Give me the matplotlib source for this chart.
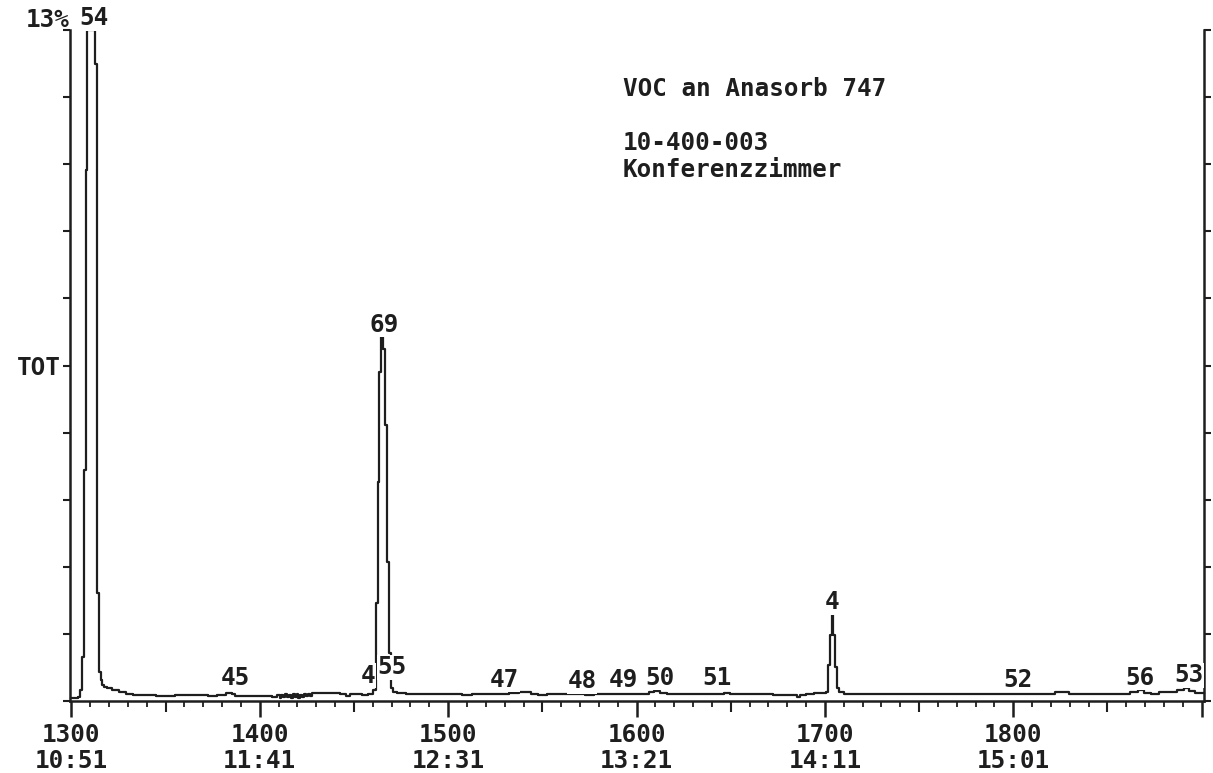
"""TOT chromatogram (VOC an Anasorb 747, sample 10-400-003) redrawn from a GC/MS printout."""

import matplotlib

matplotlib.use("Agg")
import matplotlib.pyplot as plt
from matplotlib.ticker import MultipleLocator

# scan number vs. total ion current in % of full scale (peak 54 runs off scale)
scans = [
    1300, 1303, 1304, 1305, 1306, 1307, 1308, 1309, 1310, 1311, 1312, 1313, 1314,
    1315, 1316, 1317, 1318, 1320, 1323, 1327, 1331, 1334, 1340, 1350, 1360, 1365,
    1370, 1375, 1380, 1384, 1386, 1388, 1395, 1400, 1405, 1408, 1410, 1411, 1412,
    1413, 1414, 1415, 1416, 1417, 1418, 1419, 1420, 1421, 1422, 1423, 1424, 1425,
    1426, 1427, 1428, 1435, 1440, 1445, 1447, 1449, 1452, 1456, 1459, 1461, 1462,
    1463, 1464, 1465, 1466, 1467, 1468, 1469, 1470, 1471, 1475, 1480, 1485, 1490,
    1495, 1500, 1505, 1510, 1515, 1520, 1525, 1530, 1535, 1540, 1543, 1545, 1550,
    1555, 1560, 1565, 1570, 1575, 1580, 1585, 1590, 1595, 1600, 1605, 1608, 1611,
    1614, 1618, 1622, 1626, 1630, 1635, 1640, 1645, 1648, 1651, 1655, 1660, 1665,
    1670, 1675, 1680, 1684, 1686, 1688, 1692, 1696, 1700, 1701, 1702, 1703, 1704,
    1705, 1706, 1707, 1708, 1712, 1720, 1730, 1740, 1750, 1760, 1770, 1780, 1790,
    1800, 1810, 1820, 1824, 1828, 1831, 1840, 1850, 1860, 1864, 1868, 1871, 1875,
    1880, 1885, 1889, 1892, 1895, 1898, 1901,
]
tot = [
    0.45, 0.5, 0.6, 1.6, 6.6, 34.4, 79.1, 100, 100, 100, 100, 95, 16.1,
    4.3, 3.1, 2.4, 2.1, 1.9, 1.6, 1.3, 1.0, 0.9, 0.85, 0.8, 0.85, 0.9,
    0.85, 0.8, 0.9, 1.2, 1.0, 0.8, 0.75, 0.7, 0.75, 0.6, 0.9, 0.5, 0.9,
    0.6, 1.0, 0.6, 0.9, 0.5, 1.0, 0.6, 1.0, 0.5, 0.9, 0.6, 1.0, 0.7,
    1.1, 0.8, 1.2, 1.2, 1.2, 1.1, 0.8, 1.1, 1.0, 0.9, 1.1, 1.6, 14.6,
    32.6, 49.0, 54.2, 52.5, 41.1, 20.7, 7.2, 1.9, 1.3, 1.2, 1.1, 1.1, 1.0,
    1.1, 1.0, 1.1, 0.95, 1.1, 1.0, 1.1, 1.1, 1.25, 1.4, 1.4, 1.1, 0.9,
    1.0, 1.0, 1.0, 1.0, 0.9, 1.0, 1.1, 1.0, 1.1, 1.0, 1.1, 1.3, 1.5,
    1.2, 1.0, 1.1, 1.0, 1.0, 1.05, 1.0, 1.1, 1.25, 1.0, 1.05, 1.0, 1.0,
    1.0, 0.95, 0.95, 0.9, 0.55, 0.95, 1.05, 1.2, 1.2, 1.4, 5.4, 9.8, 12.8,
    9.8, 5.1, 1.9, 1.3, 1.1, 1.1, 1.05, 1.05, 1.05, 1.0, 1.0, 1.0, 1.05,
    1.05, 1.05, 1.1, 1.4, 1.4, 1.1, 1.05, 1.1, 1.1, 1.3, 1.7, 1.2, 1.1,
    1.3, 1.4, 1.6, 1.9, 1.5, 1.2, 1.2,
]

# peak numbers printed by the data system
peak_labels = ["54", "45", "4", "69", "55", "47", "48", "49", "50", "51", "4", "52", "56", "53"]
label_scans = [1311.7, 1387.1, 1457.3, 1465.8, 1470.0, 1530.1, 1571.0, 1592.8, 1612.4,
               1642.7, 1703.8, 1802.7, 1867.5, 1893.0]
label_heights = [100.7, 2.4, 2.7, 55.0, 4.0, 2.1, 1.9, 2.1, 2.4, 2.4, 13.7, 2.1, 2.4, 2.8]

major_scans = [1300, 1400, 1500, 1600, 1700, 1800, 1900]
time_labels = ["10:51", "11:41", "12:31", "13:21", "14:11", "15:01", ""]

INK = "#1e1e1e"
FONT = dict(family="DejaVu Sans Mono", weight="bold", size=17.5, color=INK)


def main() -> None:
    plt.rcParams["font.family"] = "DejaVu Sans Mono"
    plt.rcParams["font.weight"] = "bold"

    fig = plt.figure(figsize=(12.13, 7.73), dpi=100)
    ax = fig.add_axes([0.0581, 0.0931, 0.9341, 0.8681])

    ax.plot(scans, tot, drawstyle="steps-mid", color=INK, lw=1.6, clip_on=False, zorder=2)

    for text, s, h in zip(peak_labels, label_scans, label_heights):
        ax.text(s, h, text, ha="center", va="baseline", clip_on=False, zorder=3,
                bbox=dict(facecolor="white", edgecolor="none", pad=0.3), **FONT)

    ax.set_xlim(1299.5, 1901)
    ax.set_ylim(0, 100)

    for side in ("left", "right", "bottom"):
        ax.spines[side].set_linewidth(1.8)
        ax.spines[side].set_color(INK)
    ax.spines["top"].set_visible(False)

    # x axis: hundreds labelled with scan and time, fifties medium, tens minor
    labels = [f"{s}\n{t}" if t else "" for s, t in zip(major_scans, time_labels)]
    ax.set_xticks(major_scans, labels)
    ax.xaxis.set_minor_locator(MultipleLocator(10))
    ax.tick_params(axis="x", which="major", direction="out", length=11.5, width=1.8,
                   color=INK, pad=4, labelsize=17.5, labelcolor=INK)
    ax.tick_params(axis="x", which="minor", direction="out", length=4.3, width=1.3, color=INK)
    for lab in ax.get_xticklabels():
        lab.set_linespacing(1.15)

    sec = ax.secondary_xaxis("bottom")
    sec.set_xticks([1350, 1450, 1550, 1650, 1750, 1850])
    sec.tick_params(direction="out", length=8, width=1.5, color=INK, labelbottom=False)
    sec.spines["bottom"].set_visible(False)

    # y axis: ten divisions, only the midpoint labelled TOT
    yticks = list(range(0, 101, 10))
    ax.set_yticks(yticks, ["TOT" if v == 50 else "" for v in yticks])
    ax.tick_params(axis="y", direction="out", length=5, width=1.5, color=INK,
                   left=True, right=True, labelleft=True, labelright=False,
                   labelsize=17.5, labelcolor=INK, pad=2)

    fig.text(70 / 1213, 1 - 27 / 773, "13%", ha="right", va="baseline", **FONT)

    x0 = 623 / 1213
    fig.text(x0, 1 - 96 / 773, "VOC an Anasorb 747", ha="left", va="baseline", **FONT)
    fig.text(x0, 1 - 150 / 773, "10-400-003", ha="left", va="baseline", **FONT)
    fig.text(x0, 1 - 177 / 773, "Konferenzzimmer", ha="left", va="baseline", **FONT)

    fig.savefig("out.png", dpi=100, facecolor="white")
    plt.close(fig)


if __name__ == "__main__":
    main()
